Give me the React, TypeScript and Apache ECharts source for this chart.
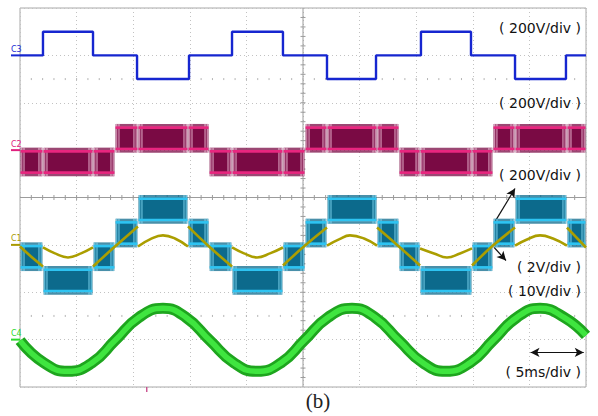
import React, { useEffect, useRef } from "react";
import * as echarts from "echarts";

// ---------- axes (time in ms, vertical in divisions) ----------
const T_MIN = 0;
const T_MAX = 50; // 5 ms/div x 10 div
const DIV_MIN = -4;
const DIV_MAX = 4;

// ---------- C3 (blue), 200 V/div, ground at +3 div ----------
const C3_OFFSET = 3;
const C3_SCALE = 200;
const c3Times = [0, 2.03, 6.45, 10.34, 14.93, 18.73, 23.23, 27.12, 31.45, 35.42, 39.84, 43.73, 48.23, 50];
const c3Volts = [0, 100, 0, -100, 0, 100, 0, -100, 0, 100, 0, -100, 0];

// ---------- PWM bands: C2 (magenta) and C1 (cyan), 200 V/div ----------
const C2_OFFSET = 1;
const C2_SCALE = 200;
const C1_OFFSET = -1;
const C1_SCALE = 200;
const segTimes = [0, 2.03, 6.45, 8.39, 10.42, 14.84, 16.7, 18.73, 23.23, 25.18, 27.12, 31.54, 33.48, 35.34, 39.93, 41.78, 43.73, 48.32, 50];
const c2High = [0, 0, 0, 100, 100, 100, 0, 0, 0, 100, 100, 100, 0, 0, 0, 100, 100, 100];
const c2Low = [-100, -100, -100, 0, 0, 0, -100, -100, -100, 0, 0, 0, -100, -100, -100, 0, 0, 0];
const c1High = [0, -100, 0, 100, 200, 100, 0, -100, 0, 100, 200, 100, 0, -100, 0, 100, 200, 100];
const c1Low = [-100, -200, -100, 0, 100, 0, -100, -200, -100, 0, 100, 0, -100, -200, -100, 0, 100, 0];

// ---------- reference (olive), 2 V/div, ground at -1 div ----------
const REF_OFFSET = -1;
const REF_SCALE = 2;
const refSegments: number[][][] = [
  [[0, -0.07], [0.97, -0.49], [2.03, -0.91]],
  [[2.03, -0.11], [3.09, -0.36], [4.24, -0.53], [5.39, -0.36], [6.45, -0.11]],
  [[6.45, -0.91], [8.39, -0.07], [10.42, 0.78]],
  [[10.42, -0.07], [11.48, 0.23], [12.63, 0.4], [13.69, 0.27], [14.84, -0.07]],
  [[14.84, 0.78], [16.7, -0.07], [18.73, -0.91]],
  [[18.73, -0.11], [19.79, -0.36], [20.94, -0.53], [22.08, -0.36], [23.23, -0.11]],
  [[23.23, -0.87], [25.18, -0.03], [27.12, 0.73]],
  [[27.12, -0.03], [28.18, 0.23], [29.15, 0.4], [30.39, 0.27], [31.54, -0.03]],
  [[31.54, 0.73], [33.57, -0.11], [35.34, -0.87]],
  [[35.34, -0.15], [36.57, -0.36], [37.72, -0.53], [38.87, -0.36], [39.93, -0.15]],
  [[39.93, -0.87], [41.78, -0.03], [43.73, 0.73]],
  [[43.73, -0.03], [44.79, 0.23], [45.94, 0.4], [47.08, 0.27], [48.32, -0.03]],
  [[48.32, 0.73], [50, -0.11]],
];

// ---------- C4 (green), 10 V/div, ground at -3 div ----------
const C4_OFFSET = -3;
const C4_SCALE = 10;
const c4Times = [0, 2.12, 4.24, 6.36, 8.39, 10.51, 12.63, 14.66, 16.78, 18.9, 20.94, 23.06, 25.09, 27.21, 29.33, 31.36, 33.48, 35.6, 37.63, 39.75, 41.78, 43.9, 45.94, 48.06, 50];
const c4Volts = [-0.2, -4.9, -6.7, -4.9, -0.2, 4.7, 6.6, 4.7, -0.2, -4.9, -6.7, -4.9, -0.2, 4.7, 6.6, 4.7, -0.2, -4.9, -6.7, -4.9, -0.2, 4.7, 6.6, 4.7, 0.9];

// ---------- channel ground markers ----------
const channelNames = ["C3", "C2", "C1", "C4"];
const channelOffsets = [C3_OFFSET, C2_OFFSET, C1_OFFSET, C4_OFFSET];
const channelColors = ["#1a2ad4", "#e0207e", "#a89a00", "#2ed82e"];

// ---------- annotations ----------
const scaleLabels = ["( 200V/div )", "( 200V/div )", "( 200V/div )", "( 2V/div )", "( 10V/div )", "( 5ms/div )"];
const arrowFrom = [[41.96, -0.51], [41.87, -1.05], [45.1, -3.27]];
const arrowTo = [[43.73, 0.19], [42.93, -1.33], [49.8, -3.27]];
const triggerTime = 11.2;

function makeBandRender(fill: string, edge: string, fringe: string, stripe: string) {
  return (params: any, api: any) => {
    const t0 = api.value(0);
    const t1 = api.value(1);
    const hi = api.value(2);
    const lo = api.value(3);
    const a = api.coord([t0, hi]);
    const b = api.coord([t1, lo]);
    const x0 = a[0] + 0.6;
    const x1 = b[0] - 0.6;
    const yT = a[1];
    const yB = b[1];
    const w = x1 - x0;
    const children: any[] = [
      { type: "rect", shape: { x: x0, y: yT - 2.5, width: w, height: 2.5 }, style: { fill: fringe } },
      { type: "rect", shape: { x: x0, y: yB, width: w, height: 2.5 }, style: { fill: fringe } },
      { type: "rect", shape: { x: x0, y: yT, width: w, height: yB - yT }, style: { fill } },
    ];
    const offs = [1.2, 3.4, w - 3.4, w - 1.2];
    for (const o of offs) {
      children.push({
        type: "line",
        shape: { x1: x0 + o, y1: yT - 2.5, x2: x0 + o, y2: yB + 2.5 },
        style: { stroke: stripe, lineWidth: 0.9 },
      });
    }
    children.push(
      { type: "line", shape: { x1: x0, y1: yT + 1.2, x2: x1, y2: yT + 1.2 }, style: { stroke: edge, lineWidth: 2.6 } },
      { type: "line", shape: { x1: x0, y1: yB - 1.2, x2: x1, y2: yB - 1.2 }, style: { stroke: edge, lineWidth: 2.6 } }
    );
    return { type: "group", children };
  };
}

function graticuleRender(params: any, api: any) {
  const children: any[] = [];
  const gray = "#9c9c9c";
  const l = api.coord([T_MIN, 0]);
  const r = api.coord([T_MAX, 0]);
  const top = api.coord([25, DIV_MAX]);
  const bot = api.coord([25, DIV_MIN]);
  children.push({ type: "line", shape: { x1: l[0], y1: l[1], x2: r[0], y2: r[1] }, style: { stroke: gray, lineWidth: 1 } });
  children.push({ type: "line", shape: { x1: top[0], y1: top[1], x2: bot[0], y2: bot[1] }, style: { stroke: gray, lineWidth: 1 } });
  for (let t = T_MIN + 1; t < T_MAX; t++) {
    const p = api.coord([t, 0]);
    children.push({ type: "line", shape: { x1: p[0], y1: p[1] - 2.5, x2: p[0], y2: p[1] + 2.5 }, style: { stroke: gray, lineWidth: 1 } });
    for (const rowV of [2.5, -2.5]) {
      const q = api.coord([t, rowV]);
      children.push({ type: "line", shape: { x1: q[0], y1: q[1] - 1, x2: q[0], y2: q[1] + 1 }, style: { stroke: "#b4b4b4", lineWidth: 1 } });
    }
  }
  for (let k = DIV_MIN * 5 + 1; k < DIV_MAX * 5; k++) {
    const p = api.coord([25, k / 5]);
    children.push({ type: "line", shape: { x1: p[0] - 2.5, y1: p[1], x2: p[0] + 2.5, y2: p[1] }, style: { stroke: gray, lineWidth: 1 } });
  }
  const tr = api.coord([triggerTime, DIV_MIN]);
  children.push({ type: "line", shape: { x1: tr[0], y1: tr[1], x2: tr[0], y2: tr[1] + 5 }, style: { stroke: "#c0307a", lineWidth: 1.2 } });
  return { type: "group", children };
}

function markerRender(params: any, api: any) {
  const i = params.dataIndex;
  const p = api.coord([T_MIN, channelOffsets[i]]);
  return {
    type: "group",
    children: [
      { type: "line", shape: { x1: p[0] - 9, y1: p[1], x2: p[0], y2: p[1] }, style: { stroke: channelColors[i], lineWidth: 2 } },
      {
        type: "text",
        x: p[0] - 9,
        y: p[1] - 2,
        style: { text: channelNames[i], fill: channelColors[i], font: "8px 'DejaVu Sans'", verticalAlign: "bottom", align: "left" },
      },
    ],
  };
}

export default function App() {
  const ref = useRef<HTMLDivElement>(null);
  useEffect(() => {
    if (!ref.current) return;
    const chart = echarts.init(ref.current, null, { renderer: "svg" });

    const c3Data: number[][] = [];
    for (let i = 0; i < c3Volts.length; i++) {
      const v = C3_OFFSET + c3Volts[i] / C3_SCALE;
      c3Data.push([c3Times[i], v], [c3Times[i + 1], v]);
    }
    const c2Data = c2High.map((h, i) => [segTimes[i], segTimes[i + 1], C2_OFFSET + h / C2_SCALE, C2_OFFSET + c2Low[i] / C2_SCALE]);
    const c1Data = c1High.map((h, i) => [segTimes[i], segTimes[i + 1], C1_OFFSET + h / C1_SCALE, C1_OFFSET + c1Low[i] / C1_SCALE]);
    const c4Data = c4Times.map((t, i) => [t, C4_OFFSET + c4Volts[i] / C4_SCALE]);

    const refSeries = refSegments.map((seg) => ({
      type: "line",
      data: seg.map((p) => [p[0], REF_OFFSET + p[1] / REF_SCALE]),
      smooth: 0.45,
      symbol: "none",
      lineStyle: { color: "#ab9e00", width: 2.6 },
      z: 6,
      silent: true,
    }));

    const textStyle = "14px 'DejaVu Sans', sans-serif";
    const labelRight = 581;
    const labelY = [28, 103, 175, 267, 291, 372];

    chart.setOption({
      animation: false,
      backgroundColor: "#ffffff",
      grid: { left: 20, top: 8, width: 566, height: 379, show: true, borderColor: "#a8a8a8", borderWidth: 1 },
      xAxis: {
        type: "value",
        min: T_MIN,
        max: T_MAX,
        interval: 5,
        axisLine: { show: false },
        axisTick: { show: false },
        axisLabel: { show: false },
        splitLine: { show: true, lineStyle: { color: "#c2c2c2", type: [1, 3], width: 1 } },
      },
      yAxis: {
        type: "value",
        min: DIV_MIN,
        max: DIV_MAX,
        interval: 1,
        axisLine: { show: false },
        axisTick: { show: false },
        axisLabel: { show: false },
        splitLine: { show: true, lineStyle: { color: "#c2c2c2", type: [1, 3], width: 1 } },
      },
      series: [
        { type: "custom", renderItem: graticuleRender, data: [[0, 0]], z: 1, silent: true },
        {
          type: "line",
          data: c3Data,
          symbol: "none",
          lineStyle: { color: "#1626d0", width: 2.4 },
          z: 3,
          silent: true,
        },
        {
          type: "custom",
          renderItem: makeBandRender("#7a0a44", "#e8267f", "rgba(122,10,68,0.75)", "rgba(255,215,235,0.9)"),
          data: c2Data,
          z: 4,
          silent: true,
        },
        {
          type: "custom",
          renderItem: makeBandRender("#0c6a8c", "#2ec4f2", "rgba(12,106,140,0.75)", "rgba(140,225,250,0.95)"),
          data: c1Data,
          z: 5,
          silent: true,
        },
        ...refSeries,
        {
          type: "line",
          data: c4Data,
          smooth: 0.5,
          symbol: "none",
          lineStyle: { color: "#1ea51e", width: 11 },
          z: 7,
          silent: true,
        },
        {
          type: "line",
          data: c4Data,
          smooth: 0.5,
          symbol: "none",
          lineStyle: { color: "#3fe53f", width: 5.5 },
          z: 8,
          silent: true,
          markLine: {
            silent: true,
            symbol: ["none", "arrow"],
            symbolSize: [7, 9],
            lineStyle: { color: "#111111", width: 1.2, type: "solid" },
            label: { show: false },
            data: arrowFrom.map((f, i) => [
              i === 2 ? { coord: f, symbol: "arrow" } : { coord: f },
              { coord: arrowTo[i] },
            ]),
          },
        },
        { type: "custom", renderItem: markerRender, data: channelOffsets.map((o) => [T_MIN, o]), z: 9, silent: true },
      ],
      graphic: [
        ...scaleLabels.map((s, i) => ({
          type: "text",
          x: labelRight,
          y: labelY[i],
          z: 20,
          style: { text: s, fill: "#111111", font: textStyle, verticalAlign: "middle", align: "right" },
        })),
        {
          type: "text",
          x: 318,
          y: 401,
          z: 20,
          style: { text: "(b)", fill: "#222222", font: "21px 'Liberation Serif', 'DejaVu Serif', serif", verticalAlign: "middle", align: "center" },
        },
      ],
    });
    return () => chart.dispose();
  }, []);
  return <div ref={ref} style={{ position: "absolute", left: 0, top: 0, width: 598, height: 416 }} />;
}
